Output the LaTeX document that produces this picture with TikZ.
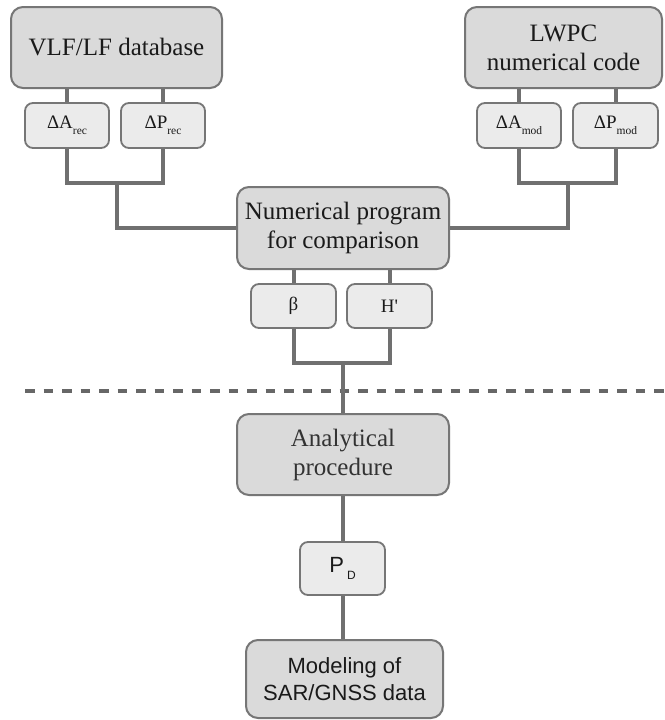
\documentclass[tikz,border=0pt]{standalone}
\usepackage{fontspec}
\setmainfont{Liberation Serif}
\setsansfont{Liberation Sans}
\definecolor{boxline}{HTML}{767676}
\definecolor{bigfill}{HTML}{DADADA}
\definecolor{smallfill}{HTML}{EBEBEB}
\definecolor{linkcol}{HTML}{707070}
\definecolor{dashcol}{HTML}{676767}
\definecolor{txt}{HTML}{1A1A1A}
\newcommand{\lowsub}[1]{\raisebox{-6pt}{\fontsize{11.5}{11.5}\selectfont #1}}
\begin{document}
\begin{tikzpicture}[x=1pt,y=-1pt,
  bigbox/.style={draw=boxline, line width=2pt, fill=bigfill, rounded corners=12pt,
    inner sep=0pt, align=center, text=txt, font=\fontsize{25}{29}\selectfont},
  smallbox/.style={draw=boxline, line width=1.8pt, fill=smallfill, rounded corners=8pt,
    inner sep=0pt, text=txt, minimum width=84pt, minimum height=45pt,
    font=\fontsize{19}{22}\selectfont},
  link/.style={draw=linkcol, line width=4pt},
  dashline/.style={draw=dashcol, line width=4.5pt, dash pattern=on 9.5pt off 9pt}]
\useasboundingbox (0,0) rectangle (664,720);
\fill[white] (0,0) rectangle (664,720);

% dashed separator
\coordinate (dl) at (25,391);
\coordinate (dr) at (664,391);
\draw[dashline] (dl) -- (dr);

% big boxes
\node[bigbox, minimum width=211pt, minimum height=81pt] (vlf) at (116.5,47.5) {VLF/LF database};
\node[bigbox, minimum width=197pt, minimum height=81pt] (lwpc) at (563.5,47.5) {LWPC\\numerical code};
\node[bigbox, minimum width=212pt, minimum height=82pt] (num) at (343,228) {Numerical program\\for comparison};
\node[bigbox, minimum width=212pt, minimum height=81pt, text=black!80] (anal) at (343,454.5) {Analytical\\procedure};
\node[bigbox, minimum width=197pt, minimum height=78pt, font=\sffamily\fontsize{22}{27}\selectfont] (model) at (344.5,679) {Modeling of\\SAR/GNSS data};

% small boxes
\node[smallbox] (dArec) at (67,125.5) {ΔA\lowsub{rec}};
\node[smallbox] (dPrec) at (163,125.5) {ΔP\lowsub{rec}};
\node[smallbox] (dAmod) at (519,125.5) {ΔA\lowsub{mod}};
\node[smallbox, minimum width=85pt] (dPmod) at (615.5,125.5) {ΔP\lowsub{mod}};
\node[smallbox, minimum width=85pt, minimum height=44pt] (beta) at (293.5,306) {β};
\node[smallbox, minimum width=85pt, minimum height=44pt] (hp) at (389.5,306) {H\textquotesingle};
\node[smallbox, minimum width=85pt, minimum height=53pt, font=\sffamily\fontsize{22}{22}\selectfont] (pd) at (342.5,568.5) {P\hspace{3pt}\raisebox{-7pt}{\fontsize{12}{12}\selectfont D}};

% junction points
\coordinate (jL) at (117,183);
\coordinate (jR) at (568,183);
\coordinate (jM) at (343,363);

% connectors
\draw[link] (dArec.north |- vlf.south) -- (dArec.north);
\draw[link] (dPrec.north |- vlf.south) -- (dPrec.north);
\draw[link] (dAmod.north |- lwpc.south) -- (dAmod.north);
\draw[link] (dPmod.north |- lwpc.south) -- (dPmod.north);
\draw[link] (beta.north |- num.south) -- (beta.north);
\draw[link] (hp.north |- num.south) -- (hp.north);

\draw[link] (dArec.south) |- (jL) -| (dPrec.south);
\draw[link] (jL) |- (num.west);
\draw[link] (dAmod.south) |- (jR) -| (dPmod.south);
\draw[link] (jR) |- (num.east);
\draw[link] (beta.south) |- (jM) -| (hp.south);
\draw[link] (jM) -- (anal.north);
\draw[link] (anal.south) -- (anal.south |- pd.north);
\draw[link] (pd.south) -- (pd.south |- model.north);
\end{tikzpicture}
\end{document}
